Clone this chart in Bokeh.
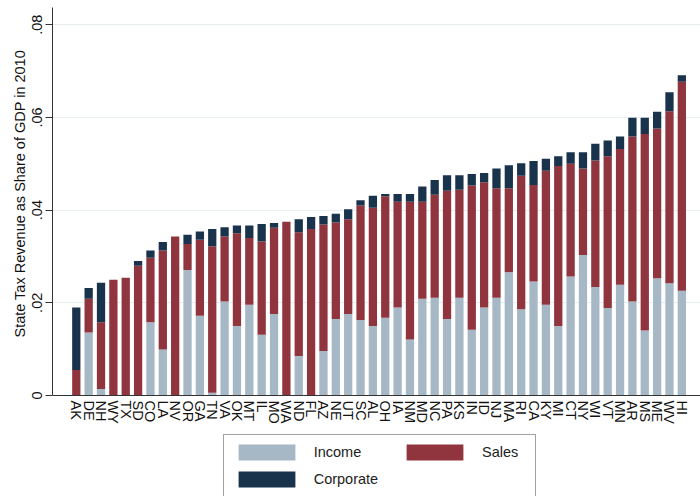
from bokeh.plotting import figure
from bokeh.models import ColumnDataSource, FixedTicker, Range1d, Legend, Title
from bokeh.embed import file_html
from bokeh.resources import INLINE

states = ["AK", "DE", "NH", "WY", "TX", "SD", "CO", "LA", "NV", "OR", "GA", "TN", "VA", "OK",
          "MT", "IL", "MO", "WA", "ND", "FL", "AZ", "NE", "UT", "SC", "AL", "OH", "IA", "NM",
          "MD", "NC", "PA", "KS", "IN", "ID", "NJ", "MA", "RI", "CA", "KY", "MI", "CT", "NY",
          "WI", "VT", "MN", "AR", "MS", "ME", "WV", "HI"]

income = [0, 0.0136, 0.0014, 0, 0, 0, 0.0158, 0.0099, 0, 0.0271, 0.0172, 0.0006, 0.0203, 0.0150,
          0.0196, 0.0131, 0.0176, 0, 0.0085, 0, 0.0096, 0.0165, 0.0176, 0.0163, 0.0150, 0.0168,
          0.0190, 0.0121, 0.0209, 0.0211, 0.0165, 0.0211, 0.0142, 0.0190, 0.0211, 0.0266, 0.0186,
          0.0246, 0.0196, 0.0150, 0.0257, 0.0303, 0.0234, 0.0189, 0.0239, 0.0203, 0.0140, 0.0253,
          0.0242, 0.0226]

sales = [0.0055, 0.0073, 0.0144, 0.0250, 0.0254, 0.0280, 0.0139, 0.0214, 0.0343, 0.0056, 0.0164,
         0.0316, 0.0140, 0.0200, 0.0144, 0.0201, 0.0186, 0.0375, 0.0267, 0.0359, 0.0273, 0.0208,
         0.0204, 0.0247, 0.0255, 0.0262, 0.0228, 0.0297, 0.0209, 0.0222, 0.0277, 0.0233, 0.0311,
         0.0270, 0.0236, 0.0181, 0.0288, 0.0208, 0.0289, 0.0345, 0.0243, 0.0187, 0.0273, 0.0327,
         0.0293, 0.0356, 0.0424, 0.0323, 0.0371, 0.0451]

corporate = [0.0135, 0.0023, 0.0085, 0, 0, 0.0010, 0.0016, 0.0018, 0, 0.0020, 0.0018, 0.0037,
             0.0020, 0.0017, 0.0027, 0.0038, 0.0010, 0, 0.0028, 0.0026, 0.0018, 0.0019, 0.0022,
             0.0011, 0.0026, 0.0005, 0.0017, 0.0017, 0.0033, 0.0032, 0.0033, 0.0031, 0.0025,
             0.0020, 0.0043, 0.0050, 0.0027, 0.0052, 0.0026, 0.0021, 0.0025, 0.0035, 0.0036,
             0.0034, 0.0027, 0.0040, 0.0035, 0.0036, 0.0041, 0.0014]

y_ticks = [0, 0.02, 0.04, 0.06, 0.08]
y_tick_labels = ["0", ".02", ".04", ".06", ".08"]
series_names = ["Income", "Sales", "Corporate"]
colors = ["#a6b7c6", "#90353e", "#1a334d"]
y_title = "State Tax Revenue as Share of GDP in 2010"

FONT = "Liberation Sans"

src = ColumnDataSource(dict(x=list(range(len(states))), income=income, sales=sales,
                            corporate=corporate))

p = figure(width=700, height=496, output_backend="svg", toolbar_location=None,
           x_range=Range1d(-1.926, 50.51), y_range=Range1d(-0.02179, 0.08371),
           min_border_left=52, min_border_right=0, min_border_top=7, min_border_bottom=0)

r_inc, r_sal, r_cor = p.vbar_stack(["income", "sales", "corporate"], x="x", width=0.67,
                                   color=colors, line_color=None, source=src)


def style_legend(lg):
    lg.glyph_width = 71
    lg.glyph_height = 20
    lg.label_standoff = 12
    lg.label_text_font = FONT
    lg.label_text_font_size = "14.5px"
    lg.label_text_color = "#222222"
    lg.label_height = 20
    lg.spacing = 7
    lg.padding = 7
    lg.margin = 0


# left column of the legend box (Income, Corporate) with the full frame
legend_a = Legend(items=[(series_names[0], [r_inc]), (series_names[2], [r_cor])],
                  location=(170.7, -1))
style_legend(legend_a)
legend_a.label_width = 214
legend_a.border_line_color = "#444444"
legend_a.border_line_width = 1
legend_a.background_fill_alpha = 1
p.add_layout(legend_a, "center")

# right column (Sales)
legend_b = Legend(items=[(series_names[1], [r_sal])], location=(347, 34))
style_legend(legend_b)
legend_b.border_line_color = None
legend_b.background_fill_alpha = 0
p.add_layout(legend_b, "center")

p.outline_line_color = None
p.xgrid.grid_line_color = None
p.ygrid.grid_line_color = "#e6eef0"
p.ygrid.ticker = FixedTicker(ticks=y_ticks)

xa = p.xaxis[0]
xa.fixed_location = 0
xa.ticker = FixedTicker(ticks=list(range(len(states))))
xa.major_label_overrides = {i: s for i, s in enumerate(states)}
xa.major_label_orientation = "vertical"
xa.major_tick_line_color = None
xa.minor_tick_line_color = None
xa.major_tick_out = 0
xa.major_label_standoff = 5
xa.major_label_text_font = FONT
xa.major_label_text_font_size = "14.5px"
xa.major_label_text_color = "#111111"
xa.axis_line_color = "#333333"

ya = p.yaxis[0]
ya.bounds = (0, 0.08371)
ya.ticker = FixedTicker(ticks=y_ticks)
ya.major_label_overrides = {t: l for t, l in zip(y_ticks, y_tick_labels)}
ya.major_label_orientation = "vertical"
ya.minor_tick_line_color = None
ya.major_tick_out = 7
ya.major_tick_in = 0
ya.major_label_standoff = 3
ya.major_label_text_font = FONT
ya.major_label_text_font_size = "14.5px"
ya.major_label_text_color = "#111111"
ya.axis_line_color = "#333333"
ya.major_tick_line_color = "#333333"

title = Title(text=y_title, align="left", offset=159, standoff=3,
              text_font=FONT, text_font_size="14.5px", text_font_style="normal",
              text_color="#111111")
p.add_layout(title, "left")

open("out.html", "w").write(file_html(p, INLINE))
